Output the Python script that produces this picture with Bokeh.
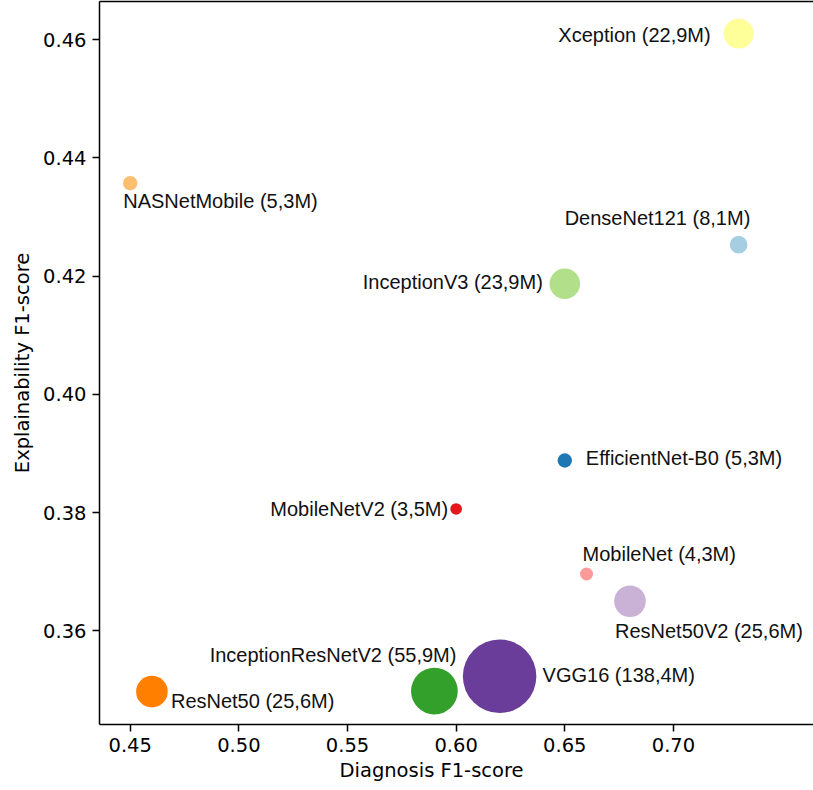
import math

from bokeh.core.properties import value
from bokeh.embed import file_html
from bokeh.models import (ColumnDataSource, FixedTicker, LinearAxis,
                          PrintfTickFormatter, Range1d, Title)
from bokeh.palettes import Paired12
from bokeh.plotting import figure
from bokeh.resources import INLINE

# --- data -----------------------------------------------------------------
models = ["DenseNet121", "EfficientNet-B0", "InceptionV3", "InceptionResNetV2",
          "MobileNet", "MobileNetV2", "NASNetMobile", "ResNet50",
          "ResNet50V2", "VGG16", "Xception"]
diagnosis_f1 = [0.73, 0.65, 0.65, 0.59, 0.66, 0.60, 0.45, 0.46, 0.68, 0.62, 0.73]
explainability_f1 = [0.4253, 0.3888, 0.4187, 0.3498, 0.3696, 0.3806, 0.4357,
                     0.3497, 0.3650, 0.3523, 0.4610]
params_m = [8.1, 5.3, 23.9, 55.9, 4.3, 3.5, 5.3, 25.6, 25.6, 138.4, 22.9]

x_ticks = [0.45, 0.50, 0.55, 0.60, 0.65, 0.70]
y_ticks = [0.36, 0.38, 0.40, 0.42, 0.44, 0.46]

# --- label placement (anchor side, x offset px, y offset px downward) -------
label_place = {
    "DenseNet121": ("left", -174, -27),
    "EfficientNet-B0": ("left", 21, -2),
    "InceptionV3": ("right", -22, -1.5),
    "InceptionResNetV2": ("right", 22, -36),
    "MobileNet": ("left", -4, -20),
    "MobileNetV2": ("right", -8, 0),
    "NASNetMobile": ("left", -7, 18),
    "ResNet50": ("left", 19, 9),
    "ResNet50V2": ("left", -15, 30),
    "VGG16": ("left", 43, -1),
    "Xception": ("right", -28, 1),
}

labels = [f"{m} ({p:.1f}M)".replace(".", ",") for m, p in zip(models, params_m)]
# bubble area proportional to the number of parameters
sizes = [6.25 * math.sqrt(p) for p in params_m]

source = ColumnDataSource(dict(
    x=diagnosis_f1,
    y=explainability_f1,
    size=sizes,
    color=list(Paired12[:len(models)]),
    label=labels,
    align=[label_place[m][0] for m in models],
    dx=[label_place[m][1] for m in models],
    dy=[label_place[m][2] for m in models],
))

p = figure(width=813, height=790, output_backend="svg", toolbar_location=None,
           x_range=Range1d(0.43587, 0.76445), y_range=Range1d(0.34415, 0.46643),
           min_border_left=99, min_border_right=0, min_border_top=1,
           min_border_bottom=66)
p.outline_line_color = None
p.grid.visible = False
p.background_fill_color = "white"
p.border_fill_color = "white"

xa = p.xaxis[0]
ya = p.yaxis[0]
xa.ticker = FixedTicker(ticks=x_ticks)
ya.ticker = FixedTicker(ticks=y_ticks)
for ax in (xa, ya):
    ax.formatter = PrintfTickFormatter(format="%.2f")
    ax.axis_line_color = "black"
    ax.axis_line_width = 1.5
    ax.major_tick_line_color = "black"
    ax.major_tick_line_width = 1.5
    ax.major_tick_out = 7
    ax.major_tick_in = 0
    ax.minor_tick_out = 0
    ax.minor_tick_in = 0
    ax.major_label_text_font = "DejaVu Sans"
    ax.major_label_text_font_size = "19.5px"
    ax.major_label_text_color = "black"
    ax.major_label_standoff = 6

ya.axis_label = "Explainability F1-score"
ya.axis_label_text_font = "DejaVu Sans"
ya.axis_label_text_font_size = "19.5px"
ya.axis_label_text_font_style = "normal"
ya.axis_label_text_color = "black"
ya.axis_label_standoff = 6

# x axis title
p.add_layout(Title(text="Diagnosis F1-score", align="left", offset=240,
                   text_font="DejaVu Sans", text_font_size="19.5px",
                   text_font_style="normal", text_color="black",
                   standoff=4), "below")

# top spine
top_axis = LinearAxis(ticker=FixedTicker(ticks=[]), major_label_text_font_size="0px",
                      major_tick_out=0, major_tick_in=0, minor_tick_out=0,
                      minor_tick_in=0, major_label_standoff=0,
                      axis_line_color="black", axis_line_width=1.5)
p.add_layout(top_axis, "above")

p.scatter("x", "y", size="size", fill_color="color", line_color=None, source=source)
p.text("x", "y", text="label", x_offset="dx", y_offset="dy", text_align="align",
       text_baseline="middle", text_font=value("Liberation Sans"),
       text_font_size="20px", text_color="#111111", source=source)

open("out.html", "w").write(file_html(p, INLINE))
